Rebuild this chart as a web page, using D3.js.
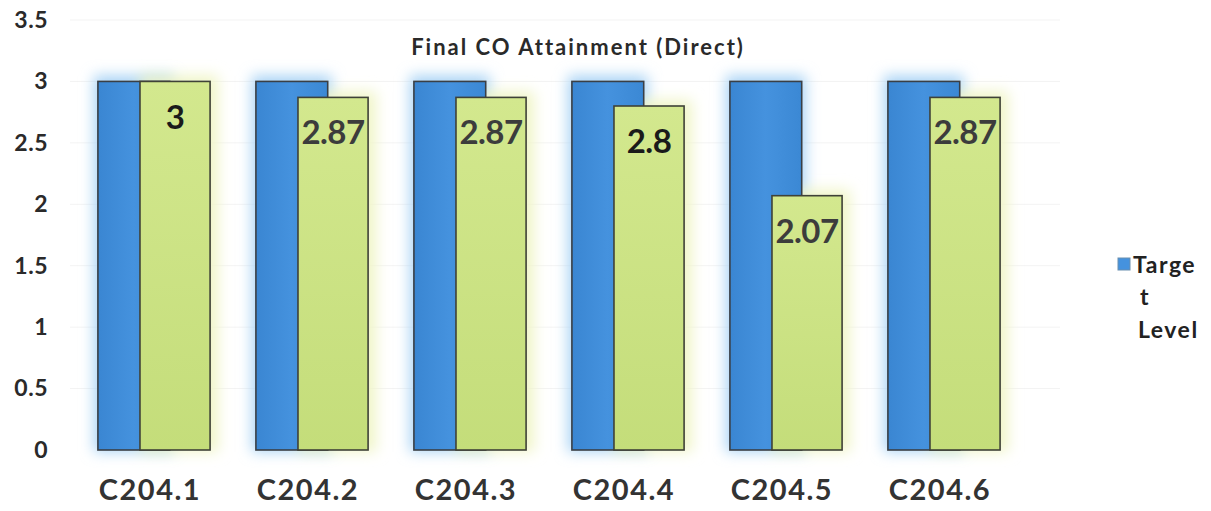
<!DOCTYPE html>
<html><head><meta charset="utf-8">
<script src="https://cdn.jsdelivr.net/npm/d3@7"></script>
<style>
html,body{margin:0;padding:0;background:#fff;}
svg{display:block;font-family:Lato,"Open Sans",sans-serif;}
</style></head>
<body><svg id="chart" width="1211" height="511"></svg>
<script>
const categories = ["C204.1","C204.2","C204.3","C204.4","C204.5","C204.6"];
const targetValues = [3,3,3,3,3,3];
const attainmentValues = [3,2.87,2.87,2.8,2.07,2.87];
const attainmentLabels = ["3","2.87","2.87","2.8","2.07","2.87"];
const yTicks = [0,0.5,1,1.5,2,2.5,3,3.5];
const yTickLabels = ["0","0.5","1","1.5","2","2.5","3","3.5"];
const seriesNames = ["Target Level","Attainment"];
const titleText = "Final CO Attainment (Direct)";

const svg = d3.select("#chart");
const y = d3.scaleLinear().domain([0,3.5]).range([450,20]);
const x = d3.scaleBand().domain(categories).range([75,1023]).paddingInner(0.29).paddingOuter(0.145);
const bw = x.bandwidth();

const defs = svg.append("defs");
const gB = defs.append("linearGradient").attr("id","gBlue").attr("x1","0").attr("x2","1").attr("y1","0").attr("y2","0");
gB.append("stop").attr("offset","0%").attr("stop-color","#3a86d2");
gB.append("stop").attr("offset","50%").attr("stop-color","#4592de");
gB.append("stop").attr("offset","100%").attr("stop-color","#3b88d4");
const gG = defs.append("linearGradient").attr("id","gGreen").attr("x1","0").attr("x2","0").attr("y1","0").attr("y2","1");
gG.append("stop").attr("offset","0%").attr("stop-color","#d3e88e");
gG.append("stop").attr("offset","100%").attr("stop-color","#c4dd7a");
const glow = defs.append("filter").attr("id","glow").attr("x","-30%").attr("y","-10%").attr("width","160%").attr("height","120%");
glow.append("feGaussianBlur").attr("stdDeviation",7);

// gridlines
svg.append("g").selectAll("line").data(yTicks.slice(1)).join("line")
  .attr("x1",70).attr("x2",1060).attr("y1",d=>y(d)).attr("y2",d=>y(d))
  .attr("stroke","#f3f3f3").attr("stroke-width",1);

// y axis
const yAxis = d3.axisLeft(y).tickValues(yTicks).tickSize(0)
  .tickFormat((d,i)=>yTickLabels[i]);
const ya = svg.append("g").attr("transform","translate(51,0)").call(yAxis);
ya.select(".domain").remove();
ya.selectAll("text").attr("font-size",23).attr("font-weight","bold").attr("fill","#2a2a2a")
  .attr("letter-spacing",0.5)
  .attr("font-family","Lato,'Open Sans',sans-serif").attr("dx",0);

// glows
const g = svg.append("g");
g.selectAll("rect.gb").data(categories).join("rect").attr("class","gb")
  .attr("x",d=>x(d)-4).attr("width",bw*0.64+8)
  .attr("y",(d,i)=>y(targetValues[i])-6).attr("height",(d,i)=>y(0)-y(targetValues[i])+8)
  .attr("fill","#a9d3f5").attr("filter","url(#glow)");
g.selectAll("rect.gg").data(categories).join("rect").attr("class","gg")
  .attr("x",d=>x(d)+bw*0.375).attr("width",bw*0.625+8)
  .attr("y",(d,i)=>y(attainmentValues[i])-6).attr("height",(d,i)=>y(0)-y(attainmentValues[i])+8)
  .attr("fill","#f0f5c8").attr("filter","url(#glow)");

// blue bars
g.selectAll("rect.b").data(categories).join("rect").attr("class","b")
  .attr("x",d=>x(d)).attr("width",bw*0.64)
  .attr("y",(d,i)=>y(targetValues[i])).attr("height",(d,i)=>y(0)-y(targetValues[i]))
  .attr("fill","url(#gBlue)").attr("stroke","#3a3f45").attr("stroke-width",1.6);
// green bars
g.selectAll("rect.gr").data(categories).join("rect").attr("class","gr")
  .attr("x",d=>x(d)+bw*0.375).attr("width",bw*0.625)
  .attr("y",(d,i)=>y(attainmentValues[i])).attr("height",(d,i)=>y(0)-y(attainmentValues[i]))
  .attr("fill","url(#gGreen)").attr("stroke","#3f4238").attr("stroke-width",1.6);

// value labels
g.selectAll("text.v").data(categories).join("text").attr("class","v")
  .attr("x",d=>x(d)+bw*0.375+bw*0.3125)
  .attr("y",(d,i)=>y(attainmentValues[i])+(i===0?48:47))
  .attr("text-anchor","middle").attr("font-size",33).attr("font-weight","bold")
  .attr("letter-spacing",-0.5)
  .attr("fill",(d,i)=>(i===0||i===3)?"#1a1a1a":"#3c3c3c")
  .text((d,i)=>attainmentLabels[i]);

// x labels
const xAxis = d3.axisBottom(x).tickSize(0);
const xa = svg.append("g").attr("transform","translate(-4,471)").call(xAxis);
xa.select(".domain").remove();
xa.selectAll("text").attr("font-size",29).attr("font-weight","bold").attr("fill","#333")
  .attr("letter-spacing",1.5)
  .attr("font-family","Lato,'Open Sans',sans-serif").attr("dy","0.9em");

// title
svg.append("text").attr("x",578).attr("y",55).attr("text-anchor","middle")
  .attr("font-size",22).attr("font-weight","bold").attr("fill","#2a2a2a")
  .attr("letter-spacing",2).text(titleText);

// legend
const leg = svg.append("g");
leg.append("rect").attr("x",1118).attr("y",258).attr("width",12).attr("height",12)
  .attr("fill","#4592de").attr("stroke","#6a8fb0").attr("stroke-width",1);
const ltxt = leg.append("text").attr("font-size",23).attr("font-weight","bold").attr("fill","#222")
  .attr("letter-spacing",1.5);
ltxt.append("tspan").attr("x",1133).attr("y",273).text(seriesNames[0].slice(0,5));
ltxt.append("tspan").attr("x",1140).attr("y",305).text(seriesNames[0].slice(5,6));
ltxt.append("tspan").attr("x",1138).attr("y",338).text(seriesNames[0].slice(7));
</script></body></html>
